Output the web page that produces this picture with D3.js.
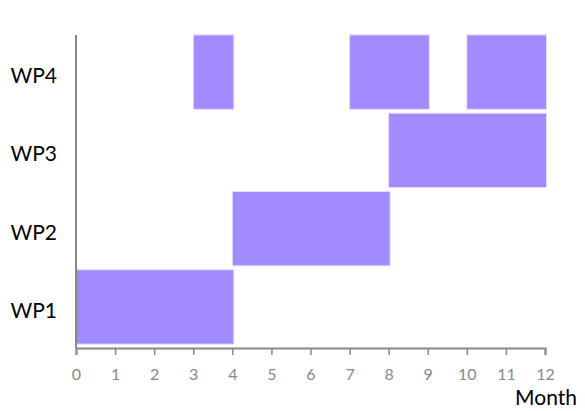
<!DOCTYPE html>
<html lang="en">
<head>
<meta charset="utf-8">
<script src="https://d3js.org/d3.v7.min.js"></script>
<style>
    body { margin: 0; background: #fff; }
    svg text { font-family: Lato, "Open Sans", sans-serif; }
</style>
</head>
<body>
<svg id="chart" width="585" height="411"></svg>
<script>
    // data
    const packages = ["WP1", "WP2", "WP3", "WP4"];
    const taskPackage = ["WP1", "WP2", "WP3", "WP4", "WP4", "WP4"];
    const taskStart = [0, 4, 8, 3, 7, 10];
    const taskEnd = [4, 8, 12, 4, 9, 12];
    const monthTicks = [0, 1, 2, 3, 4, 5, 6, 7, 8, 9, 10, 11, 12];

    const tasks = taskPackage.map((p, i) => ({ wp: p, start: taskStart[i], end: taskEnd[i] }));

    const svg = d3.select("#chart");
    const plot = { left: 76, right: 545, top: 31, bottom: 348 };

    const x = d3.scaleLinear().domain([0, 12]).range([plot.left, plot.right]);
    const y = d3.scaleBand().domain(packages).range([plot.bottom, plot.top]).padding(0.05);

    svg.selectAll("rect.task")
        .data(tasks)
        .enter()
        .append("rect")
        .attr("class", "task")
        .attr("x", d => x(d.start))
        .attr("y", d => y(d.wp))
        .attr("width", d => x(d.end) - x(d.start) + 1.5)
        .attr("height", y.bandwidth())
        .attr("fill", "#a18bff")
        .attr("stroke", "#e3dcff")
        .attr("stroke-width", 1);

    // x axis
    const xAxis = svg.append("g")
        .attr("transform", `translate(0, ${plot.bottom})`)
        .call(d3.axisBottom(x).tickValues(monthTicks).tickSize(7).tickPadding(14).tickSizeOuter(7));
    xAxis.select(".domain").attr("stroke", "#888").attr("stroke-width", 2);
    xAxis.selectAll(".tick line").attr("stroke", "#888").attr("stroke-width", 1.5);
    xAxis.selectAll(".tick text").attr("fill", "#888").style("font-size", "16px");

    // y axis
    const yAxis = svg.append("g")
        .attr("transform", `translate(${plot.left}, 0)`)
        .call(d3.axisLeft(y).tickSize(0).tickPadding(19));
    yAxis.select(".domain").attr("stroke", "#888").attr("stroke-width", 2)
        .attr("d", `M0,${plot.top + 4}V${plot.bottom}`);
    yAxis.selectAll(".tick text").attr("fill", "#000").attr("dy", "0.52em").style("font-size", "21px");

    svg.append("text")
        .attr("x", 577)
        .attr("y", 405)
        .attr("text-anchor", "end")
        .style("font-size", "21px")
        .attr("fill", "#000")
        .text("Month");
</script>
</body>
</html>
